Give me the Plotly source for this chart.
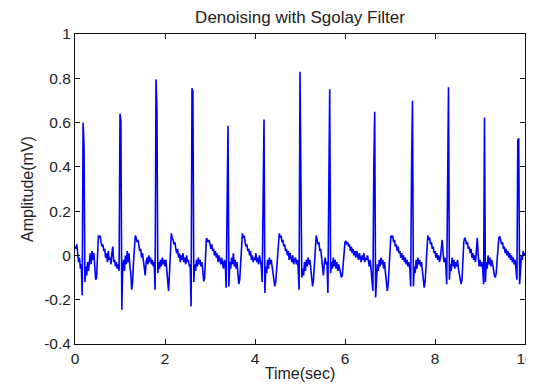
import numpy as np
import plotly.graph_objects as go

# Sample period of the recorded signal (s)
SAMPLE_PERIOD = 0.02

# Amplitude (mV), one list per second of signal
amp_sec0 = [0.04, 0.03, 0.05, 0.01, -0.03, -0.01, -0.06, -0.04, -0.18, 0.60,
            0.50, -0.12, -0.05, -0.09, -0.03, -0.07, -0.01, 0.01, -0.04, 0.02,
            -0.02, 0.01, -0.05, -0.11, -0.10, 0.04, 0.09, 0.08, 0.09, 0.06,
            0.04, 0.05, 0.02, 0.03, -0.01, 0.01, -0.03, 0.02, -0.02, -0.01,
            -0.04, 0.01, 0.04, -0.03, -0.02, -0.05, -0.03, -0.06, -0.04, -0.07]
amp_sec1 = [0.64, 0.61, -0.245, -0.06, -0.02, -0.07, 0.00, -0.04, 0.02, -0.03,
            0.01, -0.05, -0.08, -0.155, -0.12, -0.03, 0.07, 0.09, 0.08, 0.06,
            0.07, 0.04, 0.02, 0.03, -0.01, 0.01, -0.02, -0.05, -0.09, -0.03,
            -0.01, -0.04, 0.00, -0.03, -0.01, -0.04, -0.02, -0.05, -0.03, -0.155,
            0.795, 0.67, -0.08, -0.03, -0.06, -0.02, -0.05, -0.01, -0.04, -0.02]
amp_sec2 = [-0.05, -0.02, -0.06, -0.10, -0.16, -0.08, 0.06, 0.10, 0.08, 0.07,
            0.05, 0.06, 0.03, 0.01, 0.03, -0.01, 0.01, -0.03, 0.00, -0.02,
            0.01, -0.03, -0.01, -0.04, 0.00, -0.03, -0.02, -0.05, -0.04, -0.23,
            0.755, 0.74, -0.12, -0.04, -0.07, -0.02, -0.05, -0.01, -0.04, -0.02,
            -0.05, -0.03, -0.07, -0.117, -0.10, 0.02, 0.078, 0.07, 0.06, 0.07]
amp_sec3 = [0.05, 0.03, 0.05, 0.02, 0.03, 0.00, 0.02, -0.01, 0.01, -0.03,
            0.00, -0.02, -0.04, -0.01, -0.03, -0.06, -0.02, -0.04, -0.146, 0.42,
            0.586, -0.14, -0.03, -0.06, -0.01, -0.04, 0.01, -0.05, -0.02, -0.06,
            -0.03, -0.08, -0.13, -0.11, -0.02, 0.06, 0.10, 0.08, 0.09, 0.06,
            0.04, 0.05, 0.02, 0.03, 0.00, 0.02, -0.02, 0.00, -0.03, -0.01]
amp_sec4 = [-0.02, 0.01, -0.03, -0.01, -0.04, 0.00, -0.03, -0.05, -0.12, 0.20,
            0.614, -0.17, -0.05, -0.08, -0.02, -0.06, -0.01, -0.04, -0.02, -0.05,
            -0.08, -0.10, -0.14, -0.12, -0.06, 0.01, 0.07, 0.10, 0.08, 0.09,
            0.06, 0.07, 0.04, 0.05, 0.02, 0.03, 0.00, 0.02, -0.02, 0.01,
            -0.01, -0.03, 0.00, -0.04, -0.02, -0.01, -0.04, -0.02, -0.06, -0.155]
amp_sec5 = [0.829, 0.33, -0.10, -0.06, -0.09, -0.03, -0.07, -0.02, -0.05, -0.01,
            -0.04, -0.02, -0.06, -0.09, -0.14, -0.11, -0.02, 0.07, 0.09, 0.07,
            0.05, 0.06, 0.02, 0.03, -0.02, -0.05, -0.09, -0.04, -0.01, -0.04,
            -0.03, -0.17, 0.52, 0.75, -0.08, -0.03, -0.06, -0.01, -0.05, -0.02,
            -0.06, -0.03, -0.07, -0.04, -0.06, -0.08, -0.10, -0.09, -0.03, 0.03]
amp_sec6 = [0.06, 0.065, 0.05, 0.06, 0.04, 0.05, 0.02, 0.04, 0.01, 0.03,
            0.00, 0.02, -0.01, 0.02, 0.00, -0.02, 0.01, -0.01, -0.03, 0.00,
            -0.02, 0.01, -0.03, -0.01, -0.02, 0.00, -0.03, -0.05, -0.02, -0.07,
            -0.12, -0.16, 0.40, 0.649, -0.19, -0.09, -0.04, -0.07, -0.02, -0.05,
            -0.01, -0.04, -0.02, -0.06, -0.03, -0.08, -0.12, -0.16, -0.13, -0.05]
amp_sec7 = [0.04, 0.09, 0.08, 0.09, 0.06, 0.07, 0.04, 0.05, 0.02, 0.04,
            0.01, 0.02, -0.01, 0.01, -0.02, 0.00, -0.03, -0.01, -0.04, -0.02,
            -0.05, -0.03, -0.06, -0.14, 0.41, 0.698, -0.14, -0.05, -0.08, -0.02,
            -0.06, -0.01, -0.04, -0.02, -0.05, -0.03, -0.07, -0.10, -0.145, -0.12,
            -0.04, 0.05, 0.09, 0.07, 0.08, 0.05, 0.06, 0.03, 0.04, 0.01]
amp_sec8 = [0.02, -0.01, 0.01, -0.02, 0.00, -0.03, -0.01, 0.03, 0.07, 0.01,
            -0.03, -0.01, -0.04, -0.13, 0.60, 0.759, -0.11, -0.04, -0.07, -0.01,
            -0.05, -0.02, -0.06, -0.03, -0.05, -0.02, -0.06, -0.09, -0.10, -0.13,
            -0.11, -0.02, 0.06, 0.08, 0.07, 0.05, 0.06, 0.03, 0.04, 0.01,
            0.03, -0.01, 0.01, -0.02, 0.00, -0.03, 0.02, 0.08, 0.00, -0.05]
amp_sec9 = [-0.02, -0.05, -0.03, -0.06, -0.13, 0.623, -0.12, -0.03, -0.06, 0.00,
            -0.04, -0.01, -0.05, -0.02, -0.04, -0.07, -0.09, -0.10, -0.08, -0.02,
            0.04, 0.08, 0.086, 0.07, 0.05, 0.06, 0.03, 0.04, 0.01, 0.03,
            0.00, 0.02, -0.01, 0.01, -0.02, 0.00, -0.03, -0.01, -0.04, -0.02,
            -0.06, -0.11, 0.52, 0.529, -0.13, -0.04, 0.00, -0.02, 0.02, 0.00]
amp_end = [0.01]

# Axis ticks and labels
x_ticks = [0, 2, 4, 6, 8, 10]
y_ticks = [-0.4, -0.2, 0, 0.2, 0.4, 0.6, 0.8, 1]
y_tick_text = ["-0.4", "-0.2", "0", "0.2", "0.4", "0.6", "0.8", "1"]

amp = (amp_sec0 + amp_sec1 + amp_sec2 + amp_sec3 + amp_sec4 +
       amp_sec5 + amp_sec6 + amp_sec7 + amp_sec8 + amp_sec9 + amp_end)
time_s = np.arange(len(amp)) * SAMPLE_PERIOD

FONT = "Arial, 'Liberation Sans', Helvetica, sans-serif"
TEXT_COLOR = "#222222"

# The page body adds an 8 px offset, so the figure is 8 px smaller than the window
FIG_W, FIG_H = 526, 381

fig = go.Figure(
    go.Scatter(x=time_s, y=amp, mode="lines",
               line=dict(color="#0000FF", width=1.6), showlegend=False,
               hoverinfo="skip")
)

axis_common = dict(
    showline=True, linecolor="#111111", linewidth=1, mirror="ticks",
    ticks="inside", ticklen=5, tickwidth=1, tickcolor="#111111",
    showgrid=False, zeroline=False, automargin=False,
    tickfont=dict(family=FONT, size=15.5, color=TEXT_COLOR),
)

fig.update_layout(
    width=FIG_W, height=FIG_H,
    margin=dict(l=66.5, r=8.5, t=26, b=44.5, autoexpand=False),
    paper_bgcolor="white", plot_bgcolor="white",
    title=dict(text="Denoising with Sgolay Filter", x=0.5, xref="paper",
               xanchor="center", y=1 - 9 / FIG_H, yref="container",
               yanchor="middle", automargin=False,
               font=dict(family=FONT, size=17, color=TEXT_COLOR)),
    xaxis=dict(range=[0, 10], tickvals=x_ticks,
               title=dict(text="Time(sec)", standoff=2,
                          font=dict(family=FONT, size=16, color=TEXT_COLOR)),
               **axis_common),
    yaxis=dict(range=[-0.4, 1], tickvals=y_ticks, ticktext=y_tick_text,
               title=dict(text="Amplitude(mV)", standoff=6,
                          font=dict(family=FONT, size=16, color=TEXT_COLOR)),
               **axis_common),
)

fig.write_html("out.html")
